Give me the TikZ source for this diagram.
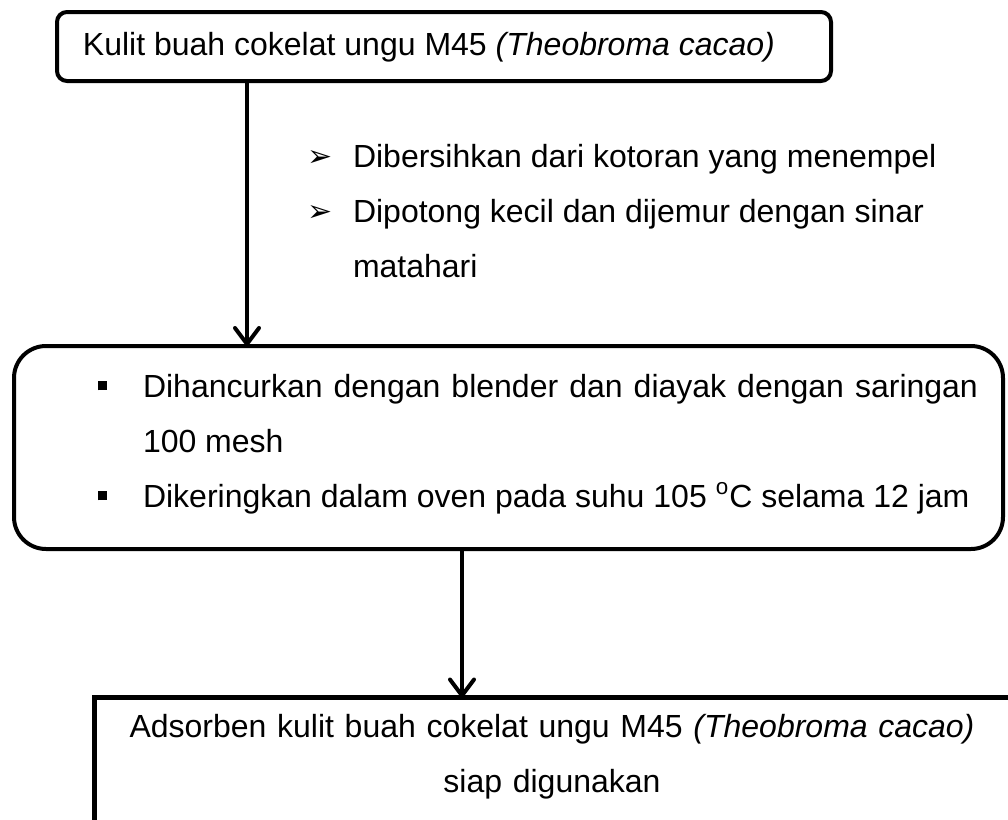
\documentclass[tikz,border=0pt]{standalone}
\usepackage{fontspec}
\setmainfont{Liberation Sans}
\newfontfamily\symfont{DejaVu Sans}
\usetikzlibrary{arrows.meta}
\hyphenpenalty=10000
\newcommand{\arrbullet}{\makebox[23pt][l]{\raisebox{0.3pt}{\symfont\fontsize{15}{15}\selectfont ➢}}}
\newcommand{\sqbullet}{\makebox[22.5pt][l]{\rule[3.3pt]{4.5pt}{4.5pt}}}
\begin{document}
\begin{tikzpicture}[x=0.5pt,y=-0.5pt,
  every node/.style={inner sep=0pt, outer sep=0pt},
  boxline/.style={draw=black, line width=2pt},
  txt/.style={font=\fontsize{16}{27.5}\selectfont, anchor=base west},
  arr/.style={line width=2pt, -{Straight Barb[length=8pt,width=12pt,round]}}
]
\useasboundingbox (0,0) rectangle (1008,820);
\clip (0,0) rectangle (1008,820);
% boxes
\node[boxline, rounded corners=5pt, minimum width=387pt, minimum height=34.5pt, anchor=north west] (top) at (57,12) {};
\node[boxline, rounded corners=16pt, minimum width=494.5pt, minimum height=101.5pt, anchor=north west] (mid) at (14,346) {};
\node[draw=black, line width=2.5pt, minimum width=460pt, minimum height=80pt, anchor=north west] (bot) at (94.5,697.5) {};
% texts
\node[txt] (toptext) at (83,55) {Kulit buah cokelat ungu M45 \textit{(Theobroma cacao)}};
\node[txt, text width=336pt, align=justify] (steps) at (307,167) {%
\rightskip=0pt plus 1fil
\hangindent=23pt\hangafter=1\noindent\arrbullet Dibersihkan dari kotoran yang menempel\par
\hangindent=23pt\hangafter=1\noindent\arrbullet Dipotong kecil dan dijemur dengan sinar matahari\par};
\node[txt, text width=440pt, align=justify] (midtext) at (98,397) {%
\hangindent=22.5pt\hangafter=1\noindent\sqbullet Dihancurkan dengan blender dan diayak dengan saringan 100 mesh\par
\hangindent=22.5pt\hangafter=1\noindent\sqbullet Dikeringkan dalam oven pada suhu 105 \textsuperscript{o}C selama 12 jam};
\node[txt, anchor=base, text width=460pt, align=center] (bottext) at (552,737) {Adsorben kulit buah cokelat ungu M45 \textit{(Theobroma cacao)}\\ siap digunakan};
% connectors
\coordinate (a1) at (247,0);
\coordinate (a2) at (462,0);
\draw[arr] (top.south -| a1) -- (mid.north -| a1);
\draw[arr] (mid.south -| a2) -- (bot.north -| a2);
\end{tikzpicture}
\end{document}
